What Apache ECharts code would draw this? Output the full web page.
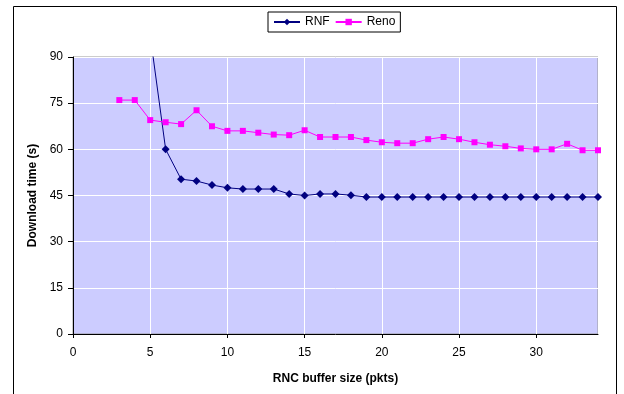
<!DOCTYPE html>
<html>
<head>
<meta charset="utf-8">
<script src="https://cdn.jsdelivr.net/npm/echarts@6/dist/echarts.min.js"></script>
<style>
    body { margin: 0; background: #fff; }
    #chartDiv { width: 624px; height: 394px; }
</style>
</head>
<body>
<div id="chartDiv"></div>
<script>
    // buffer size (pkts) and download time (s)
    var rnfX = [5, 6, 7, 8, 9, 10, 11, 12, 13, 14, 15, 16, 17, 18, 19, 20, 21, 22, 23, 24, 25, 26, 27, 28, 29, 30, 31, 32, 33, 34];
    var rnfY = [97, 60.0, 50.3, 49.7, 48.4, 47.5, 47.1, 47.1, 47.1, 45.5, 45.0, 45.5, 45.5, 45.1, 44.5, 44.5, 44.5, 44.5, 44.5, 44.5, 44.5, 44.5, 44.5, 44.5, 44.5, 44.5, 44.5, 44.5, 44.5, 44.5];
    var renoX = [3, 4, 5, 6, 7, 8, 9, 10, 11, 12, 13, 14, 15, 16, 17, 18, 19, 20, 21, 22, 23, 24, 25, 26, 27, 28, 29, 30, 31, 32, 33, 34];
    var renoY = [76.0, 76.0, 69.5, 68.8, 68.2, 72.7, 67.5, 66.0, 66.0, 65.4, 64.8, 64.6, 66.2, 64.0, 64.0, 64.0, 63.0, 62.3, 62.0, 62.0, 63.3, 64.0, 63.3, 62.3, 61.5, 61.0, 60.3, 60.0, 60.0, 61.8, 59.7, 59.7];
    var yTicks = [0, 15, 30, 45, 60, 75, 90];

    function pairs(xs, ys) {
        var out = [];
        for (var i = 0; i < xs.length; i++) {
            out.push([xs[i], ys[i]]);
        }
        return out;
    }

    var font = 'Liberation Sans, Arial, sans-serif';
    var chart = echarts.init(document.getElementById('chartDiv'));

    chart.setOption({
        animation: false,
        textStyle: {fontFamily: font},
        graphic: [{
            type: 'rect',
            shape: {x: 13.5, y: 6.5, width: 603, height: 400},
            style: {fill: 'none', stroke: '#000', lineWidth: 1},
            silent: true
        }],
        legend: {
            left: 268,
            top: 12,
            padding: [4, 5, 4, 5],
            itemGap: 5,
            itemWidth: 26,
            itemHeight: 8,
            borderColor: '#000',
            borderWidth: 1,
            backgroundColor: '#fff',
            textStyle: {fontFamily: font, fontSize: 12, color: '#000'},
            data: ['RNF', 'Reno']
        },
        grid: {
            left: 73,
            top: 57,
            width: 525,
            height: 277,
            show: true,
            backgroundColor: '#CCCCFF',
            borderColor: '#999',
            borderWidth: 1
        },
        xAxis: {
            type: 'value',
            min: 0,
            max: 34,
            interval: 5,
            name: 'RNC buffer size (pkts)',
            nameLocation: 'middle',
            nameGap: 39,
            nameTextStyle: {fontFamily: font, fontSize: 12, fontWeight: 'bold', color: '#000'},
            axisLine: {lineStyle: {color: '#000', width: 1}},
            axisTick: {show: true, length: 4, lineStyle: {color: '#000'}},
            axisLabel: {
                color: '#000', fontSize: 12, margin: 13, showMaxLabel: false,
                formatter: function (v) { return v % 5 === 0 ? String(v) : ''; }
            },
            splitLine: {show: true, lineStyle: {color: '#fff', width: 1}}
        },
        yAxis: {
            type: 'value',
            min: 0,
            max: 90,
            interval: 15,
            name: 'Download time (s)',
            nameLocation: 'middle',
            nameGap: 31,
            nameTextStyle: {fontFamily: font, fontSize: 12, fontWeight: 'bold', color: '#000'},
            axisLine: {show: true, lineStyle: {color: '#000', width: 1}},
            axisTick: {show: true, length: 5, lineStyle: {color: '#000'}},
            axisLabel: {
                color: '#000', fontSize: 12, margin: 10,
                formatter: function (v) { return yTicks.indexOf(v) >= 0 ? String(v) : ''; }
            },
            splitLine: {show: true, lineStyle: {color: '#fff', width: 1}}
        },
        series: [{
            name: 'RNF',
            type: 'line',
            clip: true,
            data: pairs(rnfX, rnfY),
            symbol: 'diamond',
            symbolSize: 8,
            color: '#000080',
            itemStyle: {color: '#000080'},
            lineStyle: {color: '#000080', width: 1}
        }, {
            name: 'Reno',
            type: 'line',
            clip: true,
            data: pairs(renoX, renoY),
            symbol: 'rect',
            symbolSize: 6,
            color: '#FF00FF',
            itemStyle: {color: '#FF00FF'},
            lineStyle: {color: '#FF00FF', width: 1}
        }]
    });
</script>
</body>
</html>
